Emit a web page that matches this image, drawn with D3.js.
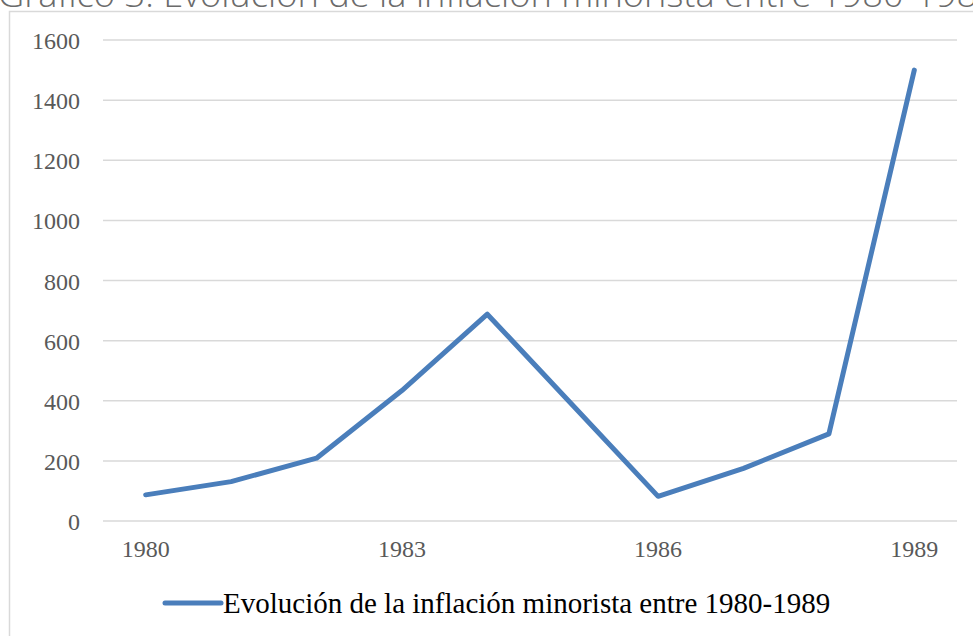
<html>
<head>
<meta charset="UTF-8">
<title>Inflación minorista 1980-1989</title>
<style>
  body { margin: 0; background: #ffffff; }
  svg { display: block; }
</style>
</head>
<body>
<svg id="chart" width="973" height="636"></svg>
<script src="https://cdnjs.cloudflare.com/ajax/libs/d3/7.8.5/d3.min.js"></script>
<script>
// data
var years = ["1980", "1981", "1982", "1983", "1984", "1985", "1986", "1987", "1988", "1989"];
var inflation = [87, 131, 209, 434, 688, 385, 82, 175, 290, 1500];
var yTicks = [0, 200, 400, 600, 800, 1000, 1200, 1400, 1600];
var xTickLabels = ["1980", "1983", "1986", "1989"];
var seriesName = "Evolución de la inflación minorista entre 1980-1989";
var titleText = "Gráfico 3. Evolución de la inflación minorista entre 1980-1989";

var svg = d3.select("#chart");
var lineColor = "#4a7ebb";

// title, cut off by the top edge like in the source
svg.append("text")
    .attr("x", -2)
    .attr("y", 7)
    .attr("font-family", "'Open Sans', sans-serif")
    .attr("font-weight", 300)
    .attr("font-size", 34)
    .attr("fill", "#6b6b6b")
    .attr("textLength", 1000)
    .attr("lengthAdjust", "spacingAndGlyphs")
    .text(titleText);

// chart frame
svg.append("rect")
    .attr("x", 9.5)
    .attr("y", 11.5)
    .attr("width", 1000)
    .attr("height", 700)
    .attr("fill", "none")
    .attr("stroke", "#d9d9d9")
    .attr("stroke-width", 1.5);

var x = d3.scaleBand()
    .domain(years)
    .range([103, 957]);

var y = d3.scaleLinear()
    .domain([0, 1600])
    .range([521, 40]);

// gridlines
svg.append("g")
    .selectAll("line")
    .data(yTicks)
    .enter().append("line")
    .attr("x1", 103)
    .attr("x2", 957)
    .attr("y1", function(d) { return y(d); })
    .attr("y2", function(d) { return y(d); })
    .attr("stroke", "#d9d9d9")
    .attr("stroke-width", 1.5);

// y labels
svg.append("g")
    .selectAll("text")
    .data(yTicks)
    .enter().append("text")
    .attr("x", 80)
    .attr("y", function(d) { return y(d) + 9; })
    .attr("text-anchor", "end")
    .attr("font-family", "'Liberation Serif', 'Times New Roman', serif")
    .attr("font-size", 24)
    .attr("fill", "#595959")
    .text(function(d) { return d; });

// x labels
svg.append("g")
    .selectAll("text")
    .data(xTickLabels)
    .enter().append("text")
    .attr("x", function(d) { return x(d) + x.bandwidth() / 2; })
    .attr("y", 557)
    .attr("text-anchor", "middle")
    .attr("font-family", "'Liberation Serif', 'Times New Roman', serif")
    .attr("font-size", 24)
    .attr("fill", "#595959")
    .text(function(d) { return d; });

// the series
var line = d3.line()
    .x(function(d, i) { return x(years[i]) + x.bandwidth() / 2; })
    .y(function(d) { return y(d); });

svg.append("path")
    .datum(inflation)
    .attr("d", line)
    .attr("fill", "none")
    .attr("stroke", lineColor)
    .attr("stroke-width", 5)
    .attr("stroke-linejoin", "round")
    .attr("stroke-linecap", "round");

// legend
var legend = svg.append("g").attr("transform", "translate(0,603)");
legend.append("line")
    .attr("x1", 165)
    .attr("x2", 221)
    .attr("stroke", lineColor)
    .attr("stroke-width", 5)
    .attr("stroke-linecap", "round");
legend.append("text")
    .attr("x", 223)
    .attr("y", 10)
    .attr("font-family", "'Liberation Serif', 'Times New Roman', serif")
    .attr("font-size", 29)
    .attr("fill", "#000000")
    .text(seriesName);
</script>
</body>
</html>
